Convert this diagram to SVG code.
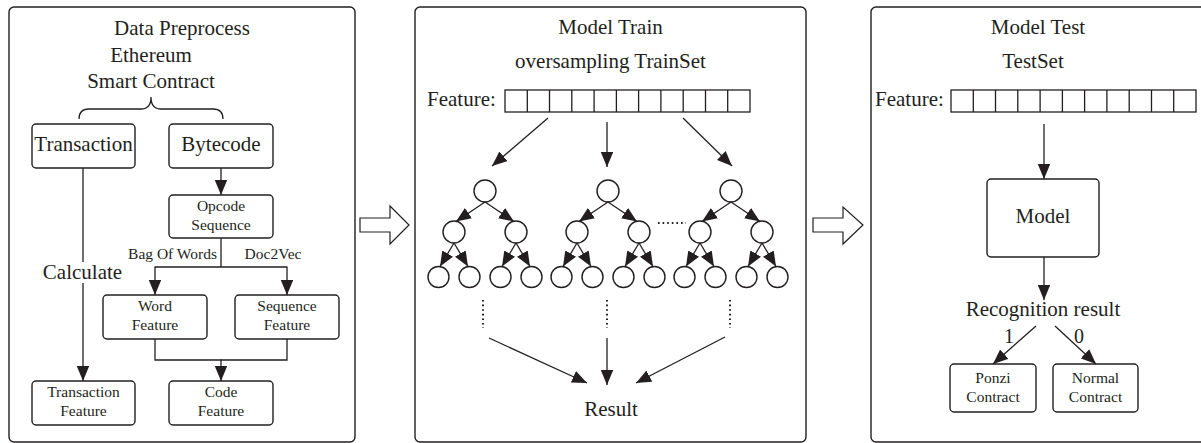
<svg xmlns="http://www.w3.org/2000/svg" width="1201" height="443" viewBox="0 0 1201 443">
<style>
.pn{fill:#fff;stroke:#231f20;stroke-width:1.4}
.bx{fill:#fff;stroke:#231f20;stroke-width:1.4}
.ln{fill:none;stroke:#231f20;stroke-width:1.3}
.ar{fill:none;stroke:#231f20;stroke-width:1.3;marker-end:url(#ah)}
.cir{fill:#fff;stroke:#231f20;stroke-width:1.4}
.dot{fill:none;stroke:#231f20;stroke-width:2;stroke-dasharray:1.6 3}
.hol{fill:#fff;stroke:#231f20;stroke-width:1.2}
text{font-family:"Liberation Serif","Times New Roman",serif;fill:#231f20}
.lg{font-size:21px;text-anchor:middle}
.sm{font-size:15.5px;text-anchor:middle}
</style>
<defs>
<marker id="ah" markerUnits="userSpaceOnUse" markerWidth="16" markerHeight="13" refX="15" refY="6.25" orient="auto">
<path d="M0,0 L15,6.25 L0,12.5 z" fill="#231f20"/>
</marker>
</defs>

<g id="panel-preprocess">
<rect class="pn" x="9" y="7" width="346" height="435" rx="5"/>
<text class="lg" x="182" y="35">Data Preprocess</text>
<text class="lg" x="151" y="62">Ethereum</text>
<text class="lg" x="151" y="88">Smart Contract</text>
<path class="ln" d="M79,119 Q79,109 89,109 L141,109 Q151,109 151,97 Q151,109 161,109 L213,109 Q223,109 223,119"/>
</g>
<g id="transaction">
<rect class="bx" x="32" y="124" width="103" height="44" rx="4"/>
<text class="lg" x="83.5" y="151">Transaction</text>
</g>
<g id="bytecode">
<rect class="bx" x="169" y="124" width="104" height="44" rx="4"/>
<text class="lg" x="221" y="151">Bytecode</text>
</g>
<g id="opcode-sequence">
<rect class="bx" x="169" y="195" width="104" height="43" rx="4"/>
<text class="sm" x="221" y="211">Opcode</text>
<text class="sm" x="221" y="230">Sequence</text>
</g>
<g id="word-feature">
<rect class="bx" x="103" y="295" width="104" height="44" rx="4"/>
<text class="sm" x="155" y="311">Word</text>
<text class="sm" x="155" y="330">Feature</text>
</g>
<g id="sequence-feature">
<rect class="bx" x="235" y="295" width="104" height="44" rx="4"/>
<text class="sm" x="287" y="311">Sequence</text>
<text class="sm" x="287" y="330">Feature</text>
</g>
<g id="transaction-feature">
<rect class="bx" x="32" y="381" width="103" height="44" rx="4"/>
<text class="sm" x="83.5" y="397">Transaction</text>
<text class="sm" x="83.5" y="416">Feature</text>
</g>
<g id="code-feature">
<rect class="bx" x="169" y="381" width="104" height="44" rx="4"/>
<text class="sm" x="221" y="397">Code</text>
<text class="sm" x="221" y="416">Feature</text>
</g>

<g id="panel-train">
<rect class="pn" x="415" y="7" width="391" height="435" rx="5"/>
<text class="lg" x="610.5" y="34">Model Train</text>
<text class="lg" x="610.5" y="68">oversampling TrainSet</text>
<text x="427" y="106" style="font-size:21px">Feature:</text>
<g id="train-feature-cells">
<rect class="ln" x="505" y="90" width="245" height="22"/>
<path class="ln" d="M527.3,90V112M549.5,90V112M571.8,90V112M594.1,90V112M616.4,90V112M638.6,90V112M660.9,90V112M683.2,90V112M705.5,90V112M727.7,90V112"/>
</g>
<text class="lg" x="611" y="416">Result</text>
</g>

<g id="tree-1">
<circle class="cir" cx="485" cy="191" r="11"/>
<circle class="cir" cx="454" cy="232" r="11"/>
<circle class="cir" cx="516" cy="232" r="11"/>
<circle class="cir" cx="438.5" cy="277" r="10.5"/>
<circle class="cir" cx="469.5" cy="277" r="10.5"/>
<circle class="cir" cx="500.5" cy="277" r="10.5"/>
<circle class="cir" cx="531.5" cy="277" r="10.5"/>
</g>
<g id="tree-2">
<circle class="cir" cx="608" cy="191" r="11"/>
<circle class="cir" cx="577" cy="232" r="11"/>
<circle class="cir" cx="639" cy="232" r="11"/>
<circle class="cir" cx="561.5" cy="277" r="10.5"/>
<circle class="cir" cx="592.5" cy="277" r="10.5"/>
<circle class="cir" cx="623.5" cy="277" r="10.5"/>
<circle class="cir" cx="654.5" cy="277" r="10.5"/>
</g>
<g id="tree-3">
<circle class="cir" cx="731" cy="191" r="11"/>
<circle class="cir" cx="700" cy="232" r="11"/>
<circle class="cir" cx="762" cy="232" r="11"/>
<circle class="cir" cx="684.5" cy="277" r="10.5"/>
<circle class="cir" cx="715.5" cy="277" r="10.5"/>
<circle class="cir" cx="746.5" cy="277" r="10.5"/>
<circle class="cir" cx="777.5" cy="277" r="10.5"/>
</g>

<g id="panel-test">
<rect class="pn" x="871" y="7" width="345" height="435" rx="5"/>
<text class="lg" x="1038" y="34">Model Test</text>
<text class="lg" x="1033" y="68">TestSet</text>
<text x="875" y="106" style="font-size:21px">Feature:</text>
<g id="test-feature-cells">
<rect class="ln" x="951" y="90" width="245" height="22"/>
<path class="ln" d="M973.3,90V112M995.5,90V112M1017.8,90V112M1040.1,90V112M1062.4,90V112M1084.6,90V112M1106.9,90V112M1129.2,90V112M1151.5,90V112M1173.7,90V112"/>
</g>
<text class="lg" x="1043" y="316">Recognition result</text>
</g>
<g id="model">
<rect class="bx" x="987" y="179" width="112" height="78" rx="4"/>
<text class="lg" x="1043" y="223">Model</text>
</g>
<g id="ponzi-contract">
<rect class="bx" x="950" y="364" width="86" height="48" rx="4"/>
<text class="sm" x="993" y="383">Ponzi</text>
<text class="sm" x="993" y="402">Contract</text>
</g>
<g id="normal-contract">
<rect class="bx" x="1053" y="364" width="85" height="48" rx="4"/>
<text class="sm" x="1095.5" y="383">Normal</text>
<text class="sm" x="1095.5" y="402">Contract</text>
</g>

<g id="stage-arrows">
<path class="hol" d="M360,218 H390 V206 L409,225 L390,244 V232 H360 Z"/>
<path class="hol" d="M813,218 H843 V207 L863,225 L843,244 V232 H813 Z"/>
</g>

<g id="connectors">
<line class="ar" x1="221" y1="168" x2="221" y2="195"/>
<line class="ar" x1="83" y1="168" x2="83" y2="381"/>
<rect x="42" y="262" width="81" height="21" fill="#fff"/>
<text class="lg" x="82.5" y="279">Calculate</text>
<path class="ln" d="M221,238 V267 M155,267 H287"/>
<line class="ar" x1="155" y1="266.4" x2="155" y2="295"/>
<line class="ar" x1="287" y1="266.4" x2="287" y2="295"/>
<text class="sm" x="172.5" y="259">Bag Of Words</text>
<text class="sm" x="273" y="259">Doc2Vec</text>
<path class="ln" d="M155,339 V360 H287 V339"/>
<line class="ar" x1="221" y1="359.4" x2="221" y2="381"/>

<line class="ar" x1="548" y1="118" x2="492" y2="166"/>
<line class="ar" x1="607" y1="122" x2="607" y2="167"/>
<line class="ar" x1="683" y1="118" x2="732" y2="166"/>

<line class="ar" x1="485" y1="202" x2="456" y2="221.5"/>
<line class="ar" x1="485" y1="202" x2="514" y2="221.5"/>
<line class="ar" x1="454" y1="243" x2="440" y2="266.5"/>
<line class="ar" x1="454" y1="243" x2="468" y2="266.5"/>
<line class="ar" x1="516" y1="243" x2="502" y2="266.5"/>
<line class="ar" x1="516" y1="243" x2="530" y2="266.5"/>
<line class="ar" x1="608" y1="202" x2="579" y2="221.5"/>
<line class="ar" x1="608" y1="202" x2="637" y2="221.5"/>
<line class="ar" x1="577" y1="243" x2="563" y2="266.5"/>
<line class="ar" x1="577" y1="243" x2="591" y2="266.5"/>
<line class="ar" x1="639" y1="243" x2="625" y2="266.5"/>
<line class="ar" x1="639" y1="243" x2="653" y2="266.5"/>
<line class="ar" x1="731" y1="202" x2="702" y2="221.5"/>
<line class="ar" x1="731" y1="202" x2="760" y2="221.5"/>
<line class="ar" x1="700" y1="243" x2="686" y2="266.5"/>
<line class="ar" x1="700" y1="243" x2="714" y2="266.5"/>
<line class="ar" x1="762" y1="243" x2="748" y2="266.5"/>
<line class="ar" x1="762" y1="243" x2="776" y2="266.5"/>

<line class="dot" x1="658" y1="223" x2="686" y2="223"/>
<line class="dot" x1="483" y1="300" x2="483" y2="328"/>
<line class="dot" x1="607" y1="300" x2="607" y2="328"/>
<line class="dot" x1="730" y1="300" x2="730" y2="328"/>

<line class="ar" x1="489" y1="338" x2="587" y2="383"/>
<line class="ar" x1="607" y1="338" x2="607" y2="385"/>
<line class="ar" x1="725" y1="337" x2="636" y2="383"/>

<line class="ar" x1="1044" y1="124" x2="1044" y2="179"/>
<line class="ar" x1="1044" y1="257" x2="1044" y2="300"/>
<line class="ar" x1="1036" y1="326" x2="993" y2="364"/>
<line class="ar" x1="1055" y1="326" x2="1096" y2="364"/>
<text x="1009" y="343" style="font-size:20px;text-anchor:middle">1</text>
<text x="1079" y="343" style="font-size:20px;text-anchor:middle">0</text>
</g>
</svg>
